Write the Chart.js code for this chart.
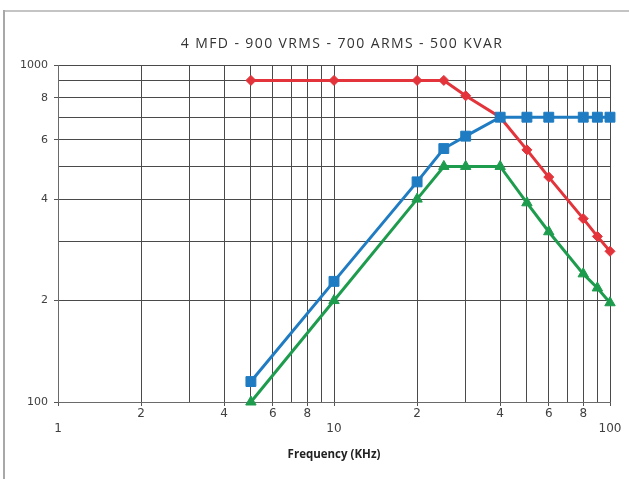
<!DOCTYPE html>
<html><head><meta charset="utf-8">
<style>html,body{margin:0;padding:0;background:#fff;overflow:hidden}#wrap{position:relative;width:629px;height:479px}</style>
<script src="https://cdn.jsdelivr.net/npm/chart.js@4"></script>
</head><body><div id="wrap"><canvas id="c" width="629" height="479"></canvas></div>
<script>
const chartTitle = '4 MFD - 900 VRMS - 700 ARMS - 500 KVAR';
const xAxisTitle = 'Frequency (KHz)';
const frequencies = [5, 10, 20, 25, 30, 40, 50, 60, 80, 90, 100];
const redSeries = [900, 900, 900, 900, 810, 700, 560, 465, 350, 310, 280];
const blueSeries = [115, 228, 450, 565, 615, 700, 700, 700, 700, 700, 700];
const greenSeries = [100, 200, 400, 500, 500, 500, 390, 320, 240, 218, 197];
const xGridValues = [1, 2, 3, 4, 5, 6, 7, 8, 9, 10, 20, 30, 40, 50, 60, 70, 80, 90, 100];
const xTickValues = [1, 2, 4, 6, 8, 10, 20, 40, 60, 80, 100];
const xTickLabels = [['', '1'], '2', '4', '6', '8', ['', '10'], '2', '4', '6', '8', ['', '100']];
const yGridValues = [100, 200, 300, 400, 500, 600, 700, 800, 900, 1000];
const yTickValues = [100, 200, 400, 600, 800, 1000];
const yTickLabels = ['100', '2', '4', '6', '8', '1000'];

function findIdx(values, v) {
  for (let i = 0; i < values.length; i++) {
    if (Math.abs(values[i] - v) < 1e-6 * values[i]) return i;
  }
  return -1;
}
function toPoints(ys) { return frequencies.map((f, i) => ({x: f, y: ys[i]})); }

const framePlugin = {
  id: 'frame',
  beforeDraw(chart) {
    const ctx = chart.ctx;
    ctx.save();
    ctx.fillStyle = '#fff';
    ctx.fillRect(0, 0, chart.width, chart.height);
    ctx.strokeStyle = '#c4c4c4';
    ctx.lineWidth = 2;
    ctx.beginPath();
    ctx.moveTo(4, 11); ctx.lineTo(chart.width, 11);
    ctx.stroke();
    ctx.strokeStyle = '#a8a8a8';
    ctx.beginPath();
    ctx.moveTo(4, 10); ctx.lineTo(4, chart.height);
    ctx.stroke();
    ctx.restore();
  },
  afterDraw(chart) {
    const ctx = chart.ctx;
    ctx.save();
    ctx.font = '14px "Open Sans"';
    try { ctx.letterSpacing = '1.4px'; } catch (e) {}
    ctx.fillStyle = '#333';
    ctx.textAlign = 'center';
    ctx.textBaseline = 'middle';
    ctx.fillText(chartTitle, 342, 44);
    ctx.restore();
  }
};

const common = {borderWidth: 3, tension: 0, clip: false, pointBorderWidth: 1};

new Chart(document.getElementById('c'), {
  type: 'line',
  data: {
    datasets: [
      Object.assign({label: 'Blue', data: toPoints(blueSeries), borderColor: '#1f7cc2', backgroundColor: '#1f7cc2', pointStyle: 'rect', pointRadius: 7}, common),
      Object.assign({label: 'Green', data: toPoints(greenSeries), borderColor: '#1e9c4e', backgroundColor: '#1e9c4e', pointStyle: 'triangle', pointRadius: 6}, common),
      Object.assign({label: 'Red', data: toPoints(redSeries), borderColor: '#e2343a', backgroundColor: '#e2343a', pointStyle: 'rectRot', pointRadius: 5}, common)
    ]
  },
  options: {
    responsive: false,
    animation: false,
    devicePixelRatio: 1,
    layout: {padding: {top: 65, left: 10, right: 19, bottom: 10}},
    plugins: {legend: {display: false}, title: {display: false}, tooltip: {enabled: false}},
    scales: {
      x: {
        type: 'logarithmic', min: 1, max: 100, position: 'bottom',
        afterBuildTicks(scale) { scale.ticks = xGridValues.map(v => ({value: v})); },
        grid: {
          color: '#4a4a4a', lineWidth: 1, tickLength: 4,
          tickColor: (c) => (c.tick && findIdx(xTickValues, c.tick.value) >= 0) ? '#555' : 'rgba(0,0,0,0)'
        },
        border: {color: '#6a6a6a', width: 1},
        ticks: {
          autoSkip: false, maxRotation: 0, minRotation: 0, padding: 1, color: '#404040',
          font: {family: 'DejaVu Sans', size: 12},
          callback: (v) => { const i = findIdx(xTickValues, v); return i >= 0 ? xTickLabels[i] : ''; }
        },
        title: {display: true, text: xAxisTitle, color: '#222', font: {family: 'Open Sans', size: 11.5, weight: 'bold'}, padding: {top: 0, bottom: 7}},
        afterFit(scale) { scale.height = 67; }
      },
      y: {
        type: 'logarithmic', min: 100, max: 1000,
        afterBuildTicks(scale) { scale.ticks = yGridValues.map(v => ({value: v})); },
        grid: {
          color: '#4a4a4a', lineWidth: 1, tickLength: 4,
          tickColor: (c) => (c.tick && findIdx(yTickValues, c.tick.value) >= 0) ? '#555' : 'rgba(0,0,0,0)'
        },
        border: {color: '#6a6a6a', width: 1},
        ticks: {
          autoSkip: false, padding: 6, color: '#404040',
          font: {family: 'DejaVu Sans', size: 11},
          callback: (v) => { const i = findIdx(yTickValues, v); return i >= 0 ? yTickLabels[i] : ''; }
        },
        afterFit(scale) { scale.width = 48; }
      }
    }
  },
  plugins: [framePlugin]
});
</script>
</body></html>
